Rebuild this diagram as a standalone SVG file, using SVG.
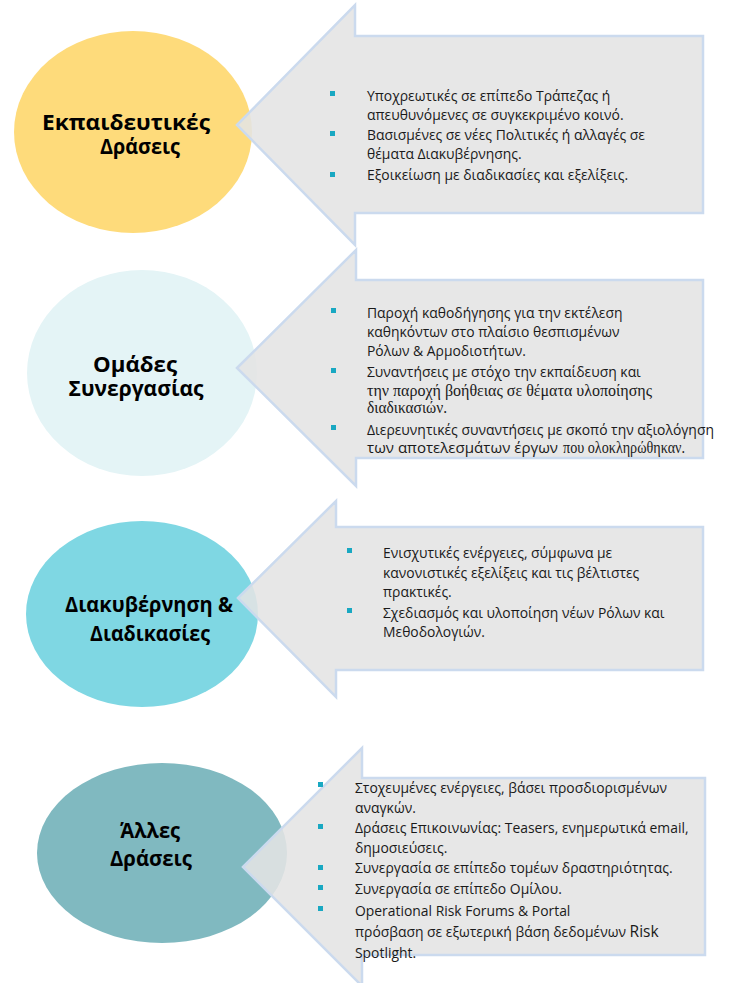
<svg xmlns="http://www.w3.org/2000/svg" width="732" height="983" viewBox="0 0 732 983">
<style>
.title{font-family:"Open Sans","Noto Sans",sans-serif;font-weight:bold;font-size:21.5px;fill:#000;text-anchor:middle}
.body{font-family:"Open Sans","Noto Sans",sans-serif;font-size:13.9px;fill:#1a1a1a}
.serif{font-family:"Liberation Serif","DejaVu Serif",serif;font-size:16px;fill:#1a1a1a}
.arrow{fill:#e4e4e4;fill-opacity:0.88;stroke:#cbdaee;stroke-width:2.5;stroke-linejoin:miter}
.bul{fill:#19a8c2}
</style>
<rect width="732" height="983" fill="#ffffff"/>
<g id="node1">
<ellipse cx="133" cy="132" rx="119" ry="101" fill="#fedb7b"/>
<text class="title" x="126" y="130" textLength="168" lengthAdjust="spacingAndGlyphs">Εκπαιδευτικές</text>
<text class="title" x="140" y="154" textLength="80" lengthAdjust="spacingAndGlyphs">Δράσεις</text>
</g>
<g id="node2">
<ellipse cx="142" cy="373" rx="115" ry="103" fill="#e4f4f6"/>
<text class="title" x="135" y="372" textLength="84" lengthAdjust="spacingAndGlyphs">Ομάδες</text>
<text class="title" x="136" y="396" textLength="135" lengthAdjust="spacingAndGlyphs">Συνεργασίας</text>
</g>
<g id="node3">
<ellipse cx="142" cy="614" rx="116" ry="93" fill="#7fd7e3"/>
<text class="title" x="149" y="612" textLength="168" lengthAdjust="spacingAndGlyphs">Διακυβέρνηση &amp;</text>
<text class="title" x="150" y="641" textLength="120" lengthAdjust="spacingAndGlyphs">Διαδικασίες</text>
</g>
<g id="node4">
<ellipse cx="162" cy="853" rx="125" ry="90" fill="#80b9c0"/>
<text class="title" x="150" y="838" textLength="60" lengthAdjust="spacingAndGlyphs">Άλλες</text>
<text class="title" x="151" y="866" textLength="82" lengthAdjust="spacingAndGlyphs">Δράσεις</text>
</g>
<g id="connectors">
<polygon id="arrow1" class="arrow" points="237,125 355,5 355,36 703,36 703,213 355,213 355,245"/>
<polygon id="arrow2" class="arrow" points="237,368 356,250 356,280 703,280 703,458 356,458 356,486"/>
<polygon id="arrow3" class="arrow" points="238,598 336,501 336,527 703,527 703,670 336,670 336,697"/>
<polygon id="arrow4" class="arrow" points="243,867 362,748 362,778 705,778 705,955 362,955 362,986"/>
</g>
<g id="text1">
<rect class="bul" x="330" y="91" width="5" height="5"/>
<rect class="bul" x="330" y="131" width="5" height="5"/>
<rect class="bul" x="330" y="172" width="5" height="5"/>
<text class="body" x="367" y="101">Υποχρεωτικές σε επίπεδο Τράπεζας ή</text>
<text class="body" x="367" y="120">απευθυνόμενες σε συγκεκριμένο κοινό.</text>
<text class="body" x="367" y="140">Βασισμένες σε νέες Πολιτικές ή αλλαγές σε</text>
<text class="body" x="367" y="159">θέματα Διακυβέρνησης.</text>
<text class="body" x="367" y="180">Εξοικείωση με διαδικασίες και εξελίξεις.</text>
</g>
<g id="text2">
<rect class="bul" x="331" y="308" width="5" height="5"/>
<rect class="bul" x="331" y="368" width="5" height="5"/>
<rect class="bul" x="331" y="425" width="5" height="5"/>
<text class="body" x="367" y="318">Παροχή καθοδήγησης για την εκτέλεση</text>
<text class="body" x="367" y="337">καθηκόντων στο πλαίσιο θεσπισμένων</text>
<text class="body" x="367" y="356">Ρόλων &amp; Αρμοδιοτήτων.</text>
<text class="body" x="367" y="377">Συναντήσεις με στόχο την εκπαίδευση και</text>
<text class="serif" x="367" y="396" textLength="285" lengthAdjust="spacingAndGlyphs">την παροχή βοήθειας σε θέματα υλοποίησης</text>
<text class="serif" x="367" y="413" textLength="80" lengthAdjust="spacingAndGlyphs">διαδικασιών.</text>
<text class="body" x="367" y="435">Διερευνητικές συναντήσεις με σκοπό την αξιολόγηση</text>
<text class="body" x="367" y="453" textLength="191" lengthAdjust="spacingAndGlyphs">των αποτελεσμάτων έργων</text>
<text class="serif" x="563" y="453" textLength="122" lengthAdjust="spacingAndGlyphs">που ολοκληρώθηκαν.</text>
</g>
<g id="text3">
<rect class="bul" x="347" y="548" width="5" height="5"/>
<rect class="bul" x="347" y="608" width="5" height="5"/>
<text class="body" x="383" y="558">Ενισχυτικές ενέργειες, σύμφωνα με</text>
<text class="body" x="383" y="578">κανονιστικές εξελίξεις και τις βέλτιστες</text>
<text class="body" x="383" y="597">πρακτικές.</text>
<text class="body" x="383" y="618">Σχεδιασμός και υλοποίηση νέων Ρόλων και</text>
<text class="body" x="383" y="637">Μεθοδολογιών.</text>
</g>
<g id="text4">
<rect class="bul" x="318" y="782" width="5" height="5"/>
<rect class="bul" x="318" y="824" width="5" height="5"/>
<rect class="bul" x="318" y="865" width="5" height="5"/>
<rect class="bul" x="318" y="885" width="5" height="5"/>
<rect class="bul" x="318" y="906" width="5" height="5"/>
<text class="body" x="355" y="793">Στοχευμένες ενέργειες, βάσει προσδιορισμένων</text>
<text class="body" x="355" y="813">αναγκών.</text>
<text class="body" x="355" y="833">Δράσεις Επικοινωνίας: Teasers, ενημερωτικά email,</text>
<text class="body" x="355" y="853">δημοσιεύσεις.</text>
<text class="body" x="355" y="873">Συνεργασία σε επίπεδο τομέων δραστηριότητας.</text>
<text class="body" x="355" y="894">Συνεργασία σε επίπεδο Ομίλου.</text>
<text class="body" x="355" y="916">Operational Risk Forums &amp; Portal</text>
<text class="body" x="355" y="937">πρόσβαση σε εξωτερική βάση δεδομένων <tspan style="font-size:15.5px">Risk</tspan></text>
<text class="body" x="355" y="958">Spotlight.</text>
</g>
</svg>
